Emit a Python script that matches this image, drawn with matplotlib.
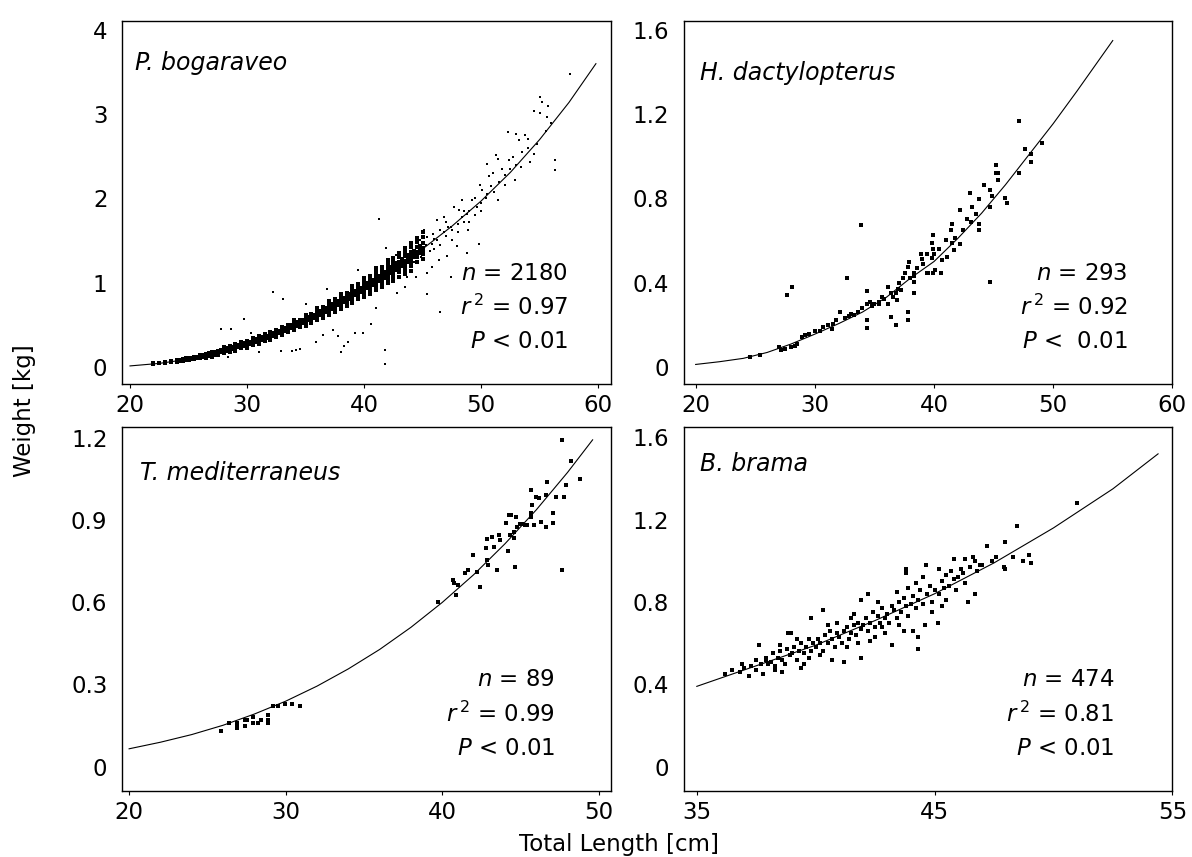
import numpy as np
import matplotlib
matplotlib.use("Agg")
import matplotlib.pyplot as plt

plt.rcParams['font.family'] = ['DejaVu Sans']
plt.rcParams['mathtext.fontset'] = 'dejavusans'

# ---- fitted curves (length cm, weight kg) ----
pb_curve_len = [20, 22.5, 25, 27.5, 30, 32.5, 35, 37.5, 40, 42.5, 45, 47.5, 50, 52.5, 55, 57.5, 59.8]
pb_curve_wt = [0.01, 0.04, 0.09, 0.17, 0.27, 0.40, 0.55, 0.73, 0.93, 1.15, 1.40, 1.67, 1.97, 2.31, 2.70, 3.14, 3.60]

hd_curve_len = [20, 22, 24, 26, 28, 30, 32, 34, 36, 38, 40, 42, 44, 46, 48, 50, 52, 54, 55]
hd_curve_wt = [0.011, 0.024, 0.040, 0.068, 0.108, 0.155, 0.205, 0.26, 0.33, 0.42, 0.50, 0.61,
               0.73, 0.865, 1.01, 1.155, 1.31, 1.47, 1.55]

tm_curve_len = [20, 22, 24, 26, 28, 30, 32, 34, 36, 38, 40, 42, 44, 46, 48, 49.6]
tm_curve_wt = [0.065, 0.089, 0.117, 0.151, 0.192, 0.239, 0.294, 0.357, 0.428, 0.509, 0.60,
               0.701, 0.814, 0.938, 1.075, 1.194]

bb_curve_len = [35, 37.5, 40, 42.5, 45, 47.5, 50, 52.5, 54.4]
bb_curve_wt = [0.39, 0.49, 0.59, 0.71, 0.84, 0.99, 1.16, 1.35, 1.52]

# ---- P. bogaraveo: dense band (length, weights) and scattered points ----
pb_band = [
    (22.0, [0.03, 0.04]), (22.5, [0.04, 0.05]), (23.0, [0.05, 0.06, 0.04]),
    (23.5, [0.06, 0.07]), (24.0, [0.06, 0.08, 0.07]), (24.25, [0.07, 0.08, 0.065]),
    (24.5, [0.08, 0.09, 0.07]), (24.75, [0.08, 0.09, 0.10]),
    (25.0, [0.08, 0.10, 0.09, 0.11]), (25.25, [0.09, 0.10, 0.11]),
    (25.5, [0.10, 0.11, 0.09, 0.12]), (25.75, [0.10, 0.11, 0.12]),
    (26.0, [0.11, 0.13, 0.12, 0.10, 0.14]), (26.25, [0.12, 0.13, 0.14]),
    (26.5, [0.12, 0.14, 0.13, 0.15, 0.11]), (26.75, [0.13, 0.14, 0.15, 0.16]),
    (27.0, [0.14, 0.16, 0.15, 0.13, 0.17, 0.12]), (27.25, [0.15, 0.16, 0.17, 0.14]),
    (27.5, [0.16, 0.17, 0.15, 0.18, 0.19, 0.14]), (27.75, [0.17, 0.18, 0.19, 0.20]),
    (28.0, [0.18, 0.19, 0.20, 0.17, 0.21, 0.16, 0.23]), (28.25, [0.19, 0.20, 0.21, 0.22]),
    (28.5, [0.20, 0.21, 0.19, 0.22, 0.23, 0.18, 0.25]), (28.75, [0.21, 0.22, 0.23, 0.24]),
    (29.0, [0.22, 0.23, 0.24, 0.21, 0.25, 0.20, 0.27, 0.19]), (29.25, [0.23, 0.24, 0.25, 0.26]),
    (29.5, [0.24, 0.25, 0.26, 0.23, 0.27, 0.22, 0.29]), (29.75, [0.25, 0.26, 0.27, 0.28]),
    (30.0, [0.26, 0.27, 0.28, 0.25, 0.29, 0.24, 0.31, 0.22]), (30.25, [0.27, 0.28, 0.29, 0.30]),
    (30.5, [0.29, 0.30, 0.28, 0.31, 0.27, 0.32, 0.26, 0.34]), (30.75, [0.30, 0.31, 0.32, 0.33]),
    (31.0, [0.31, 0.32, 0.33, 0.30, 0.34, 0.29, 0.36, 0.27]), (31.25, [0.32, 0.33, 0.34, 0.35]),
    (31.5, [0.34, 0.35, 0.33, 0.36, 0.32, 0.37, 0.31, 0.39]), (31.75, [0.34, 0.35, 0.36, 0.37]),
    (32.0, [0.36, 0.37, 0.38, 0.35, 0.39, 0.34, 0.41, 0.32]), (32.25, [0.37, 0.38, 0.39, 0.40]),
    (32.5, [0.39, 0.40, 0.41, 0.38, 0.42, 0.37, 0.44, 0.35]), (32.75, [0.40, 0.41, 0.42, 0.43]),
    (33.0, [0.42, 0.43, 0.44, 0.41, 0.45, 0.40, 0.47, 0.38]), (33.25, [0.43, 0.44, 0.45, 0.46]),
    (33.5, [0.45, 0.46, 0.47, 0.44, 0.48, 0.43, 0.50, 0.41]), (33.75, [0.46, 0.47, 0.48, 0.50]),
    (34.0, [0.48, 0.49, 0.50, 0.47, 0.51, 0.46, 0.53, 0.44, 0.56]), (34.25, [0.49, 0.50, 0.51, 0.53]),
    (34.5, [0.51, 0.52, 0.53, 0.50, 0.54, 0.49, 0.56, 0.47]), (34.75, [0.52, 0.53, 0.54, 0.56]),
    (35.0, [0.54, 0.55, 0.56, 0.53, 0.57, 0.51, 0.59, 0.49, 0.62]), (35.25, [0.55, 0.56, 0.57, 0.59]),
    (35.5, [0.57, 0.58, 0.59, 0.56, 0.61, 0.54, 0.63, 0.52]), (35.75, [0.58, 0.60, 0.61, 0.62]),
    (36.0, [0.61, 0.62, 0.63, 0.59, 0.65, 0.57, 0.67, 0.55, 0.70]), (36.25, [0.62, 0.63, 0.64, 0.66]),
    (36.5, [0.64, 0.65, 0.67, 0.63, 0.69, 0.61, 0.71, 0.58]), (36.75, [0.65, 0.67, 0.68, 0.70]),
    (37.0, [0.68, 0.69, 0.71, 0.66, 0.73, 0.64, 0.75, 0.62, 0.78]), (37.25, [0.69, 0.70, 0.72, 0.74]),
    (37.5, [0.72, 0.73, 0.75, 0.70, 0.77, 0.68, 0.80, 0.65]), (37.75, [0.73, 0.75, 0.76, 0.78]),
    (38.0, [0.76, 0.77, 0.79, 0.74, 0.81, 0.72, 0.84, 0.69, 0.87]), (38.25, [0.77, 0.79, 0.80, 0.82]),
    (38.5, [0.80, 0.81, 0.83, 0.78, 0.86, 0.75, 0.88, 0.72]), (38.75, [0.81, 0.83, 0.84, 0.86]),
    (39.0, [0.84, 0.85, 0.87, 0.82, 0.90, 0.79, 0.93, 0.76, 0.96]), (39.25, [0.85, 0.87, 0.88, 0.90]),
    (39.5, [0.88, 0.89, 0.92, 0.86, 0.95, 0.83, 0.98, 0.80]), (39.75, [0.89, 0.91, 0.92, 0.94]),
    (40.0, [0.92, 0.93, 0.96, 0.90, 0.99, 0.87, 1.02, 0.83, 1.06]), (40.25, [0.93, 0.95, 0.97, 0.99]),
    (40.5, [0.97, 0.98, 1.01, 0.94, 1.04, 0.91, 1.08, 0.87]), (40.75, [0.97, 0.99, 1.01, 1.03]),
    (41.0, [1.01, 1.02, 1.05, 0.98, 1.09, 0.95, 1.13, 0.91, 1.17]), (41.25, [1.02, 1.04, 1.06, 1.08]),
    (41.5, [1.05, 1.07, 1.10, 1.03, 1.14, 0.99, 1.18, 0.95]), (41.75, [1.06, 1.08, 1.10, 1.13]),
    (42.0, [1.10, 1.11, 1.15, 1.07, 1.19, 1.03, 1.23, 0.99, 1.27]), (42.25, [1.11, 1.13, 1.15, 1.18]),
    (42.5, [1.14, 1.16, 1.20, 1.11, 1.24, 1.07, 1.29, 1.02]), (42.75, [1.15, 1.17, 1.20, 1.23]),
    (43.0, [1.19, 1.21, 1.25, 1.16, 1.30, 1.12, 1.35, 1.07]), (43.25, [1.20, 1.22, 1.25, 1.28]),
    (43.5, [1.24, 1.26, 1.31, 1.20, 1.36, 1.15, 1.41, 1.10]), (43.75, [1.25, 1.27, 1.30, 1.33]),
    (44.0, [1.29, 1.31, 1.36, 1.25, 1.42, 1.20, 1.47, 1.14]), (44.25, [1.30, 1.32, 1.35, 1.38]),
    (44.5, [1.34, 1.36, 1.42, 1.30, 1.48, 1.24, 1.53]), (44.75, [1.35, 1.37, 1.40, 1.44]),
    (45.0, [1.39, 1.41, 1.47, 1.34, 1.54, 1.28, 1.60]),
]

pb_points = [
    (27.8, 0.45), (28.6, 0.45), (28.4, 0.12), (29.7, 0.57), (32.2, 0.89), (33.1, 0.80),
    (32.9, 0.19), (33.8, 0.19), (34.2, 0.20), (34.5, 0.21), (35.9, 0.30), (37.3, 0.44),
    (37.8, 0.36), (38.0, 0.18), (38.3, 0.25), (38.6, 0.30), (39.2, 0.40), (39.9, 0.40),
    (40.6, 0.51), (41.3, 1.75), (41.9, 1.41), (41.8, 0.20), (41.8, 0.03), (36.5, 0.38),
    (31.0, 0.17), (30.3, 0.40), (35.0, 0.74), (36.8, 0.92), (39.5, 1.15), (41.0, 0.70),
    (42.8, 0.88), (43.5, 0.95), (43.7, 1.07), (44.4, 1.07),
    (45.4, 1.54), (45.1, 1.62), (44.8, 1.50), (44.7, 1.35), (44.2, 1.38), (43.9, 1.31),
    (45.8, 1.46), (45.9, 1.58), (46.2, 1.74), (46.5, 1.62), (46.8, 1.78), (47.4, 1.66),
    (47.7, 1.90), (48.1, 1.86), (48.4, 1.98), (48.4, 1.78), (48.8, 1.82), (49.2, 1.98),
    (49.6, 1.90), (49.9, 2.16), (50.1, 2.10), (50.4, 2.00), (50.5, 2.41), (50.7, 2.26),
    (51.1, 2.07), (51.3, 2.51), (51.4, 2.47), (51.4, 1.98), (52.0, 2.16), (52.3, 2.79),
    (52.4, 2.45), (52.7, 2.49), (52.9, 2.22), (53.0, 2.77), (53.2, 2.69), (53.4, 2.37),
    (53.7, 2.75), (54.2, 2.43), (54.5, 2.53), (54.5, 3.04), (55.0, 3.21), (55.0, 3.02),
    (55.2, 3.15), (55.6, 2.97), (55.7, 3.10), (56.3, 2.45), (56.3, 2.34), (57.6, 3.48),
    (45.4, 1.11), (45.8, 1.19), (46.4, 1.27), (47.1, 1.31), (47.9, 1.43), (48.8, 1.35),
    (49.8, 1.46), (48.9, 1.62), (47.4, 1.07), (45.4, 0.87), (46.5, 0.65), (46.0, 1.40),
    (46.0, 1.52), (46.5, 1.45), (47.0, 1.55), (47.0, 1.72), (47.5, 1.62), (47.5, 1.50),
    (48.0, 1.70), (48.0, 1.60), (48.5, 1.72), (48.5, 1.85), (49.0, 1.85), (49.0, 1.72),
    (49.5, 2.00), (49.5, 1.80), (50.0, 1.95), (50.0, 1.85), (50.5, 2.05), (50.8, 2.15),
    (51.0, 2.30), (51.5, 2.20), (51.8, 2.35), (52.0, 2.28), (52.5, 2.35), (53.0, 2.40),
    (53.5, 2.55), (54.0, 2.60), (54.0, 2.70), (54.8, 2.65), (55.5, 2.80), (56.0, 2.90),
    (45.3, 1.45), (45.6, 1.38), (46.2, 1.50), (46.8, 1.60), (47.2, 1.66), (44.6, 1.44),
    (44.3, 1.25), (44.9, 1.30), (43.2, 1.28), (42.7, 1.33),
]

# ---- H. dactylopterus ----
hd_points = [
    (24.6, 0.045), (25.4, 0.056), (27.0, 0.095), (27.2, 0.08), (27.5, 0.085), (28.0, 0.095),
    (28.3, 0.10), (28.5, 0.11), (27.7, 0.341), (28.1, 0.38), (28.9, 0.14), (29.2, 0.15),
    (29.5, 0.157), (30.0, 0.17), (30.4, 0.17), (30.65, 0.19), (31.1, 0.197), (31.4, 0.18),
    (31.5, 0.204), (31.8, 0.22), (32.1, 0.26), (32.5, 0.23), (32.7, 0.42), (32.9, 0.24),
    (33.3, 0.245), (33.6, 0.26), (33.9, 0.673), (34.0, 0.28), (34.4, 0.36), (34.4, 0.30),
    (34.4, 0.222), (34.4, 0.183), (34.6, 0.31), (35.0, 0.30), (35.4, 0.31), (35.4, 0.30),
    (35.8, 0.32), (36.1, 0.38), (36.1, 0.30), (36.4, 0.35), (36.4, 0.238), (36.8, 0.35),
    (36.8, 0.198), (36.9, 0.317), (37.1, 0.396), (37.2, 0.365), (37.4, 0.42), (37.6, 0.445),
    (37.8, 0.475), (37.8, 0.26), (37.8, 0.222), (37.9, 0.50), (38.0, 0.42), (38.3, 0.445),
    (38.3, 0.43), (38.3, 0.405), (38.3, 0.349), (38.9, 0.535), (39.1, 0.49), (39.4, 0.445),
    (39.4, 0.535), (39.5, 0.445), (39.8, 0.586), (39.8, 0.517), (39.9, 0.626), (39.9, 0.56),
    (39.9, 0.445), (40.0, 0.535), (40.1, 0.46), (40.6, 0.445), (40.7, 0.505), (41.1, 0.523),
    (41.4, 0.65), (41.5, 0.68), (41.5, 0.59), (41.7, 0.555), (41.8, 0.61), (42.2, 0.745),
    (42.2, 0.585), (42.4, 0.65), (43.0, 0.827), (43.1, 0.69), (43.2, 0.76), (43.5, 0.728),
    (43.8, 0.795), (43.8, 0.68), (43.8, 0.65), (44.2, 0.864), (44.7, 0.84), (44.7, 0.76),
    (44.7, 0.404), (44.9, 0.81), (45.2, 0.959), (45.2, 0.919), (45.4, 0.922), (45.4, 0.887),
    (46.0, 0.80), (46.1, 0.78), (47.1, 1.169), (47.1, 0.922), (47.6, 1.033), (48.1, 1.011),
    (48.1, 0.974), (49.06, 1.062), (33.0, 0.25), (34.8, 0.29), (35.6, 0.33), (36.6, 0.33),
    (37.0, 0.37), (38.6, 0.47), (39.0, 0.51), (40.4, 0.56), (41.0, 0.60), (42.8, 0.70),
]

# ---- T. mediterraneus ----
tm_points = [
    (25.9, 0.13), (26.4, 0.16), (26.9, 0.15), (26.9, 0.16), (27.4, 0.17), (27.5, 0.17),
    (27.9, 0.18), (27.9, 0.16), (28.4, 0.17), (28.9, 0.19), (28.9, 0.17), (28.9, 0.16),
    (29.2, 0.22), (29.5, 0.22), (29.95, 0.23), (30.4, 0.23), (30.9, 0.22), (26.9, 0.14),
    (27.4, 0.15), (28.2, 0.16),
    (39.74, 0.60), (40.7, 0.68), (40.77, 0.67), (40.87, 0.627), (41.0, 0.665), (41.44, 0.706),
    (41.65, 0.72), (41.93, 0.773), (42.2, 0.712), (42.44, 0.657), (42.87, 0.754), (42.78, 0.80),
    (42.87, 0.83), (42.93, 0.735), (43.2, 0.84), (43.3, 0.803), (43.5, 0.72), (43.6, 0.846),
    (43.7, 0.828), (44.06, 0.891), (44.2, 0.789), (44.3, 0.846), (44.26, 0.918), (44.4, 0.918),
    (44.6, 0.858), (44.6, 0.834), (44.67, 0.73), (44.7, 0.912), (44.8, 0.876), (44.95, 0.886),
    (45.1, 0.888), (45.28, 0.882), (45.43, 0.882), (45.64, 0.912), (45.64, 0.925), (45.75, 0.955),
    (45.85, 0.882), (45.64, 1.01), (45.96, 0.986), (46.17, 0.983), (46.28, 0.894), (46.6, 0.992),
    (46.7, 1.04), (46.64, 0.876), (47.06, 0.925), (47.06, 0.891), (47.23, 0.986), (47.65, 1.193),
    (47.65, 0.72), (47.76, 0.986), (47.87, 1.03), (48.19, 1.115), (48.79, 1.05),
]

# ---- B. brama ----
bb_points = [
    (36.2, 0.45), (36.5, 0.47), (36.8, 0.46), (37.0, 0.48), (37.2, 0.44), (36.9, 0.50),
    (37.3, 0.49), (37.5, 0.52), (37.5, 0.47), (37.7, 0.50), (37.8, 0.45), (37.9, 0.53),
    (38.0, 0.50), (37.6, 0.59), (37.9, 0.52),
    (38.1, 0.51), (38.2, 0.55), (38.3, 0.49), (38.4, 0.53), (38.5, 0.56), (38.6, 0.52),
    (38.7, 0.50), (38.8, 0.57), (38.85, 0.65), (38.95, 0.65), (38.9, 0.54), (38.3, 0.47),
    (38.6, 0.46), (38.5, 0.59),
    (39.0, 0.55), (39.1, 0.58), (39.2, 0.52), (39.3, 0.56), (39.4, 0.60), (39.5, 0.55),
    (39.5, 0.50), (39.6, 0.58), (39.7, 0.62), (39.8, 0.72), (39.8, 0.56), (39.9, 0.60),
    (39.2, 0.62), (39.4, 0.48), (39.7, 0.53),
    (40.0, 0.58), (40.1, 0.62), (40.2, 0.60), (40.3, 0.76), (40.3, 0.56), (40.4, 0.64),
    (40.5, 0.60), (40.6, 0.66), (40.7, 0.52), (40.7, 0.62), (40.8, 0.58), (40.9, 0.65),
    (40.2, 0.54), (40.5, 0.69), (40.9, 0.70),
    (41.0, 0.63), (41.1, 0.60), (41.2, 0.51), (41.2, 0.66), (41.3, 0.68), (41.4, 0.62),
    (41.5, 0.65), (41.5, 0.72), (41.6, 0.69), (41.7, 0.64), (41.8, 0.70), (41.9, 0.53),
    (41.9, 0.81), (41.9, 0.67), (41.3, 0.58), (41.6, 0.74), (41.8, 0.60),
    (42.0, 0.69), (42.1, 0.72), (42.2, 0.84), (42.2, 0.66), (42.3, 0.70), (42.4, 0.75),
    (42.5, 0.68), (42.5, 0.63), (42.6, 0.73), (42.7, 0.70), (42.8, 0.77), (42.9, 0.72),
    (42.9, 0.65), (42.3, 0.61), (42.6, 0.80), (42.8, 0.68),
    (43.0, 0.74), (43.1, 0.70), (43.2, 0.59), (43.2, 0.78), (43.3, 0.76), (43.4, 0.72),
    (43.5, 0.80), (43.5, 0.69), (43.6, 0.75), (43.7, 0.82), (43.8, 0.96), (43.8, 0.94),
    (43.8, 0.78), (43.9, 0.73), (43.4, 0.85), (43.7, 0.66), (43.9, 0.87),
    (44.0, 0.79), (44.1, 0.66), (44.1, 0.83), (44.2, 0.77), (44.3, 0.57), (44.3, 0.63),
    (44.3, 0.81), (44.4, 0.86), (44.5, 0.79), (44.6, 0.69), (44.66, 0.98), (44.7, 0.84),
    (44.8, 0.88), (44.9, 0.80), (44.9, 0.75), (44.5, 0.92), (44.2, 0.89),
    (45.0, 0.86), (45.15, 0.70), (45.2, 0.96), (45.2, 0.84), (45.3, 0.90), (45.4, 0.87),
    (45.5, 0.81), (45.5, 0.93), (45.6, 0.88), (45.8, 1.01), (45.8, 0.91), (45.9, 0.86),
    (45.3, 0.78), (45.7, 0.95),
    (46.0, 0.92), (46.1, 0.96), (46.2, 0.94), (46.3, 0.89), (46.4, 0.80), (46.5, 0.97),
    (46.6, 1.02), (46.7, 0.84), (46.7, 1.00), (46.8, 0.95), (46.9, 0.98), (46.3, 1.01),
    (47.0, 0.98), (47.2, 1.07), (47.4, 1.00), (47.6, 1.02), (47.9, 0.97), (47.98, 1.09),
    (47.98, 0.96), (48.47, 1.17), (48.7, 1.00), (48.96, 1.03), (49.07, 0.99), (51.0, 1.28),
    (48.3, 1.02),
]

# ---- text ----
species = ["P. bogaraveo", "H. dactylopterus", "T. mediterraneus", "B. brama"]
n_values = ["2180", "293", "89", "474"]
r2_values = ["0.97", "0.92", "0.99", "0.81"]
p_texts = ["< 0.01", "<  0.01", "< 0.01", "< 0.01"]

x_ticks = [[20, 30, 40, 50, 60], [20, 30, 40, 50, 60], [20, 30, 40, 50], [35, 45, 55]]
y_ticks = [[0, 1, 2, 3, 4], [0, 0.4, 0.8, 1.2, 1.6], [0, 0.3, 0.6, 0.9, 1.2], [0, 0.4, 0.8, 1.2, 1.6]]
y_tick_labels = [["0", "1", "2", "3", "4"], ["0", "0.4", "0.8", "1.2", "1.6"],
                 ["0", "0.3", "0.6", "0.9", "1.2"], ["0", "0.4", "0.8", "1.2", "1.6"]]
x_lims = [(19.32, 61.07), (19.0, 59.86), (19.55, 50.76), (34.45, 54.92)]
y_lims = [(-0.205, 4.107), (-0.082, 1.643), (-0.088, 1.242), (-0.117, 1.652)]

# ---- flatten point lists ----
pb_band_x = [L for L, ws in pb_band for w in ws]
pb_band_y = [w for L, ws in pb_band for w in ws]
scatter_data = [
    ([p[0] for p in pb_points], [p[1] for p in pb_points], 2.5),
    ([p[0] for p in hd_points], [p[1] for p in hd_points], 6.0),
    ([p[0] for p in tm_points], [p[1] for p in tm_points], 6.0),
    ([p[0] for p in bb_points], [p[1] for p in bb_points], 6.0),
]
curves = [(pb_curve_len, pb_curve_wt), (hd_curve_len, hd_curve_wt),
          (tm_curve_len, tm_curve_wt), (bb_curve_len, bb_curve_wt)]

fig = plt.figure(figsize=(11.92, 8.57), dpi=100)
positions = [
    [0.1024, 0.5519, 0.4100, 0.4236],
    [0.5736, 0.5519, 0.4099, 0.4236],
    [0.1024, 0.0774, 0.4100, 0.4247],
    [0.5736, 0.0774, 0.4099, 0.4247],
]
species_y = [0.865, 0.837, 0.854, 0.878]
species_x = [0.027, 0.034, 0.037, 0.034]
stats_x = [0.913, 0.909, 0.886, 0.881]

FS = 16.5
for i in range(4):
    ax = fig.add_axes(positions[i])
    if i == 0:
        ax.scatter(pb_band_x, pb_band_y, s=6.0, marker='s', c='black', linewidths=0)
    sx, sy, size = scatter_data[i]
    ax.scatter(sx, sy, s=size, marker='s', c='black', linewidths=0)
    ax.plot(curves[i][0], curves[i][1], color='black', lw=0.8)
    ax.set_xlim(*x_lims[i])
    ax.set_ylim(*y_lims[i])
    ax.set_xticks(x_ticks[i])
    ax.set_yticks(y_ticks[i])
    ax.set_yticklabels(y_tick_labels[i])
    ax.tick_params(axis='x', length=3, width=0.8, pad=4.5, labelsize=FS)
    ax.tick_params(axis='y', length=0, pad=10.5, labelsize=FS)
    for sp in ax.spines.values():
        sp.set_linewidth(1.0)
        sp.set_color('black')

    ax.text(species_x[i], species_y[i], species[i], transform=ax.transAxes,
            fontsize=FS + 0.5, style='italic', ha='left', va='baseline')
    ax.text(stats_x[i], 0.2865, f"$n$ = {n_values[i]}", transform=ax.transAxes,
            fontsize=FS, ha='right', va='baseline')
    ax.text(stats_x[i], 0.190, f"$r^{{\\,2}}$ = {r2_values[i]}", transform=ax.transAxes,
            fontsize=FS, ha='right', va='baseline')
    ax.text(stats_x[i], 0.098, f"$P$ {p_texts[i]}", transform=ax.transAxes,
            fontsize=FS, ha='right', va='baseline')

fig.text(25 / 1192, 1 - 411 / 857, "Weight [kg]", rotation=90, ha='center', va='center', fontsize=FS)
fig.text(619 / 1192, 1 - 845 / 857, "Total Length [cm]", ha='center', va='center', fontsize=FS)

fig.savefig("out.png", dpi=100)
